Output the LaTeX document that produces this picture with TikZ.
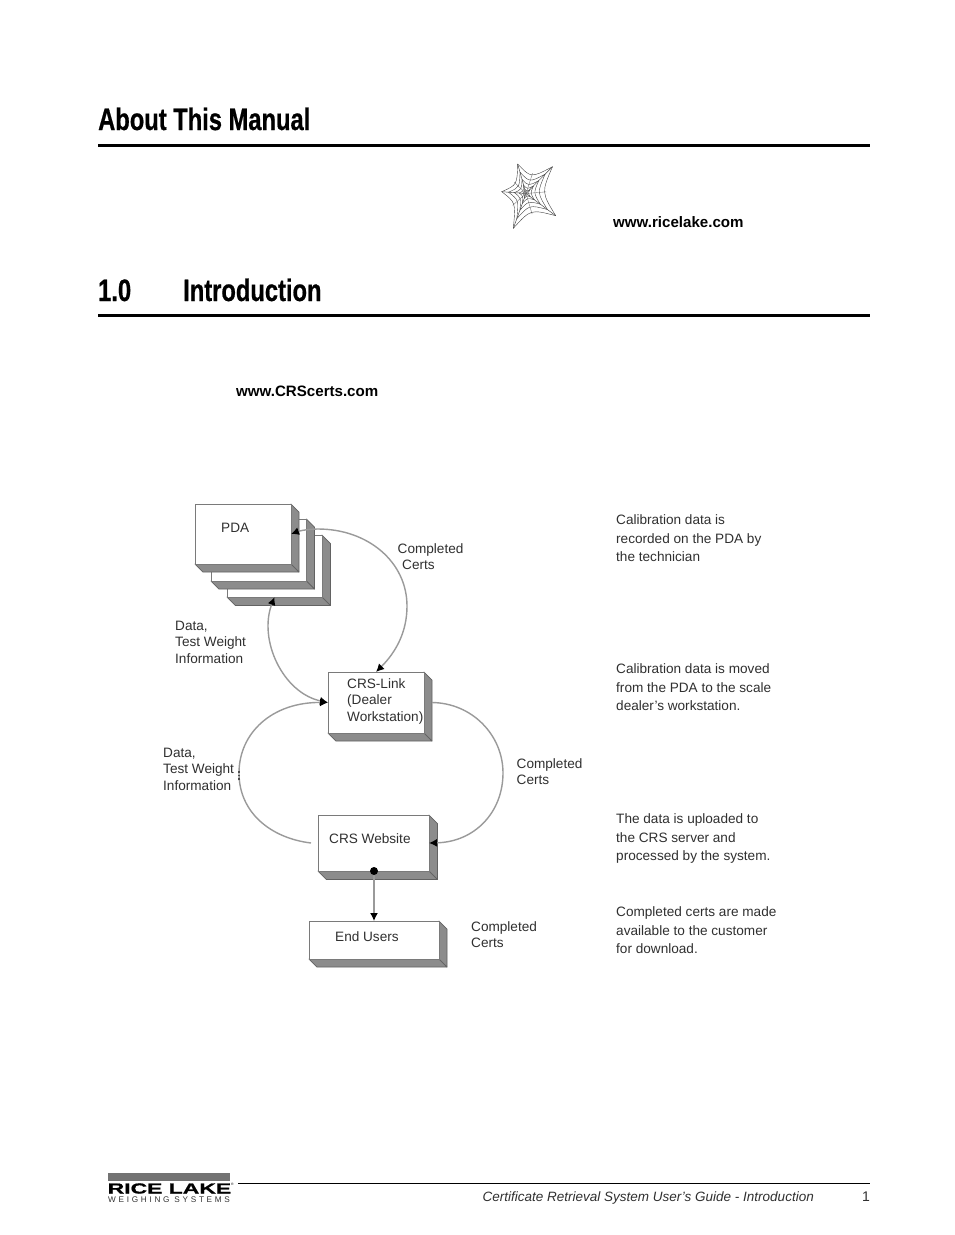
\documentclass[tikz,border=0pt]{standalone}
\usepackage{fontspec}
\usetikzlibrary{calc,arrows.meta}
\setmainfont{Liberation Sans}
\newfontfamily\headfont[BoldFont={Liberation Sans Bold},BoldFeatures={FakeStretch=0.765,FakeBold=0.6}]{Liberation Sans}
\newfontfamily\logofont[FakeStretch=1.58,FakeBold=1.2]{Liberation Sans Bold}
\newfontfamily\logosub[LetterSpace=33]{Liberation Sans}
\definecolor{shade}{HTML}{8C8C8C}
\definecolor{edgec}{HTML}{7A7A7A}
\definecolor{linkc}{HTML}{9A9A9A}
\definecolor{txt}{HTML}{303030}
\tikzset{
  frontbox/.style={draw=edgec,fill=white,line width=0.9pt,inner sep=0,outer sep=0,anchor=north west},
  sidep/.style={draw=edgec!80!black,fill=shade,line width=0.7pt,line join=round},
  bottomp/.style={draw=edgec!80!black,fill=shade,line width=0.7pt,line join=round},
  link/.style={draw=linkc,line width=1.4pt},
  tip/.style={-{Latex[length=8pt,width=8pt,black]}},
  tipb/.style={{Latex[length=8pt,width=8pt,black]}-{Latex[length=8pt,width=8pt,black]}},
  heading/.style={inner sep=0,anchor=base west,font=\headfont\bfseries\fontsize{31}{31}\selectfont,text=black},
  body/.style={inner sep=0,anchor=north west,align=left,text=txt,font=\fontsize{13.6}{16.4}\selectfont},
  side/.style={body,font=\fontsize{13.6}{18.5}\selectfont},
  urltext/.style={inner sep=0,anchor=west,font=\bfseries\fontsize{15.1}{15}\selectfont,text=black},
  rulel/.style={line width=3pt,black},
  footl/.style={inner sep=0,anchor=base east,text=txt,font=\fontsize{14}{14}\selectfont},
}
% name, x1, y1, x2, y2, depth
\newcommand{\crsbox}[6]{%
  \draw[sidep] (#4,#3) -- (#4+#6,#3+#6) -- (#4+#6,#5+#6) -- (#4,#5) -- cycle;
  \draw[bottomp] (#2,#5) -- (#2+#6,#5+#6) -- (#4+#6,#5+#6) -- (#4,#5) -- cycle;
  \node[frontbox,minimum width=#4-#2,minimum height=#5-#3] (#1) at (#2,#3) {};
}
\begin{document}
\begin{tikzpicture}[x=1pt,y=-1pt]
\useasboundingbox (0,0) rectangle (954,1235);
\fill[white] (0,0) rectangle (954,1235);

% headings
\node[heading] (h1) at (98,130) {About This Manual};
\coordinate (r1a) at (98,145); \coordinate (r1b) at (870,145);
\draw[rulel] (r1a) -- (r1b);
\node[heading] (h2a) at (98,301) {1.0};
\node[heading] (h2b) at (183,301) {Introduction};
\coordinate (r2a) at (98,315.5); \coordinate (r2b) at (870,315.5);
\draw[rulel] (r2a) -- (r2b);

% web icon
\coordinate (c) at (526,193.5);
\coordinate (t1) at (517.7,164);
\coordinate (t2) at (552.5,166.7);
\coordinate (t3) at (555.7,215.7);
\coordinate (t4) at (513.3,228.3);
\coordinate (t5) at (501.7,191.7);
\foreach \a/\b in {t1/t2,t2/t3,t3/t4,t4/t5,t5/t1}{
  \coordinate (m) at ($(\a)!.5!(\b)$);
  \draw[black!75,line width=0.45pt] (c) -- (\a);
  \draw[black!55,line width=0.35pt] (c) -- ($(c)!.72!(m)$);
  \foreach \s in {1,.72,.48,.28,.14}{
    \draw[black!75,line width=0.4pt] ($(c)!\s!(\a)$) .. controls ($(c)!\s*0.55!(m)$) .. ($(c)!\s!(\b)$);
  }
}
\node[urltext] (url1) at (613,222) {www.ricelake.com};
\node[urltext] (url2) at (236,391) {www.CRScerts.com};

% boxes
\crsbox{pdathree}{227}{535}{322}{597}{8.5}
\crsbox{pdatwo}{211}{519}{306.5}{581}{8}
\crsbox{pdaone}{195}{504}{291}{564}{8}
\crsbox{crslink}{328}{672}{424}{733}{8}
\crsbox{website}{318}{815}{429}{871}{8.5}
\crsbox{endusers}{309}{921}{439}{959}{8}

% box labels
\node[body] (lpda) at (221,523) {PDA};
\node[body] (lcrs) at (347,678.5) {CRS-Link\\(Dealer\\Workstation)};
\node[body] (lweb) at (329,833) {CRS Website};
\node[body] (lend) at (335,931) {End Users};

% connectors
\coordinate (crsr) at ($(crslink.east)+(8,0)$);
\draw[link,tipb] (crslink.north) .. controls (396,652) and (407,632) .. (407,606) .. controls (407,562) and (368,529) .. (318,529) .. controls (308,529) and (299,531) .. (pdaone.east);
\draw[link,tipb] (pdathree.south) .. controls (258,640) and (283,693) .. (crslink.west);
\draw[link,tip] (website.west) ++(-7,0) coordinate (wl) .. controls (270,838) and (239,812) .. (239,773) .. controls (239,733) and (272,702) .. (crslink.west);
\draw[link,tip] (crsr) .. controls (472,703) and (503,735) .. (503,773) .. controls (503,812) and (475,842) .. (website.east);
\coordinate (art1) at (239,771); \coordinate (art2) at (239,780);
\draw[black!70,line width=1.2pt,dash pattern=on 1.5pt off 2pt] (art1) -- (art2);
\draw[link,tip,line width=1.4pt] (website.south) ++(0.5,0) coordinate (ws) -- (ws |- endusers.north);
\fill[black] (ws) circle (4pt);

% annotations
\node[body] (a1) at (397.5,543) {Completed\\[-0.4pt]\hspace{4.5pt}Certs};
\node[body] (a2) at (175,621) {Data,\\Test Weight\\Information};
\node[body] (a3) at (163,748) {Data,\\Test Weight\\Information};
\node[body] (a4) at (516.5,758) {Completed\\Certs};
\node[body] (a5) at (471,921) {Completed\\Certs};

% side column
\node[side] (s1) at (616,514.5) {Calibration data is\\recorded on the PDA by\\the technician};
\node[side] (s2) at (616,663.5) {Calibration data is moved\\from the PDA to the scale\\dealer’s workstation.};
\node[side] (s3) at (616,813.5) {The data is uploaded to\\the CRS server and\\processed by the system.};
\node[side] (s4) at (616,906.5) {Completed certs are made\\available to the customer\\for download.};

% footer
\fill[black!55] (108,1173.3) rectangle (230,1181);
\node[inner sep=0,anchor=base west,font=\logofont\fontsize{14.5}{14.5}\selectfont] (logo) at (107.5,1193.5) {RICE LAKE};
\node[inner sep=0,anchor=base west,font=\logosub\fontsize{8.2}{8.2}\selectfont,text=black!80] (logob) at (108,1202.5) {WEIGHING SYSTEMS};
\node[inner sep=0,anchor=west,font=\fontsize{3.5}{3.5}\selectfont] (reg) at (231,1184) {®};
\coordinate (fa) at (238,1183.5); \coordinate (fb) at (870,1183.5);
\draw[black,line width=0.8pt] (fa) -- (fb);
\node[footl,font=\itshape\fontsize{13.5}{14}\selectfont] (ft) at (814,1201) {Certificate Retrieval System User’s Guide - Introduction};
\node[footl] (pg) at (870,1201) {1};
\end{tikzpicture}
\end{document}
